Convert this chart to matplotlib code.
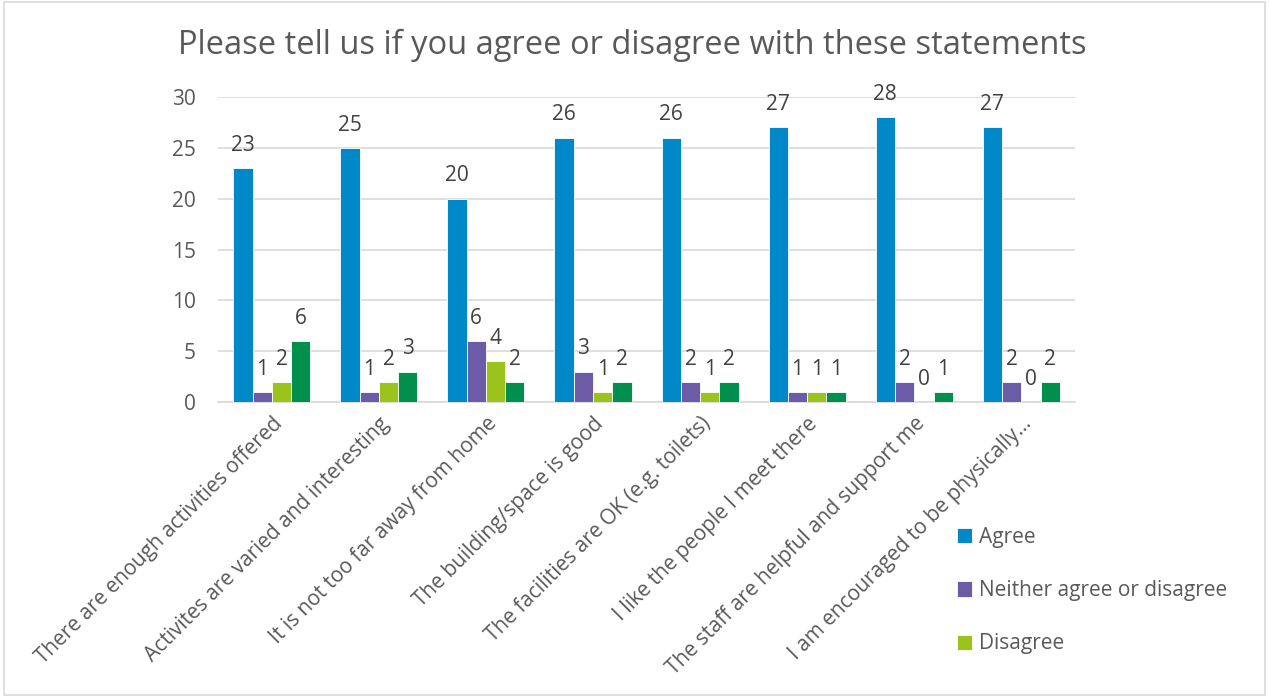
import matplotlib.pyplot as plt
from matplotlib.patches import Rectangle
import numpy as np

plt.rcParams['font.family'] = ['Open Sans', 'DejaVu Sans']

statements = [
    "There are enough activities offered",
    "Activites are varied and interesting",
    "It is not too far away from home",
    "The building/space is good",
    "The facilities are OK (e.g. toilets)",
    "I like the people I meet there",
    "The staff are helpful and support me",
    "I am encouraged to be physically…",
]
agree = [23, 25, 20, 26, 26, 27, 28, 27]
neither = [1, 1, 6, 3, 2, 1, 2, 2]
disagree = [2, 2, 4, 1, 1, 1, 0, 0]
fourth = [6, 3, 2, 2, 2, 1, 1, 2]

series = [
    (agree, "Agree", "#0088c9"),
    (neither, "Neither agree or disagree", "#6c5ba6"),
    (disagree, "Disagree", "#9bc31c"),
    (fourth, None, "#008f4c"),
]

text_col = "#595959"
grid_col = "#d9d9d9"

fig = plt.figure(figsize=(12.69, 6.97), dpi=100)
ax = fig.add_axes([0.172, 0.423, 0.675, 0.438])

x = np.arange(len(statements))
w = 0.18
for i, (vals, name, col) in enumerate(series):
    pos = x + (i - 1.5) * w
    bars = ax.bar(pos, vals, w, color=col, label=name, zorder=3,
                  edgecolor="white", linewidth=0.6)
    for b, v in zip(bars, vals):
        ax.text(b.get_x() + b.get_width() / 2, v + 1.2, str(v),
                ha="center", va="bottom", fontsize=15, color="#404040")

ax.set_xlim(-0.5, len(statements) - 0.5)
ax.set_ylim(0, 30)
ax.set_yticks(range(0, 31, 5))
ax.yaxis.grid(True, color=grid_col, linewidth=1.2, zorder=0)
ax.set_axisbelow(True)
for s in ["top", "right", "left"]:
    ax.spines[s].set_visible(False)
ax.spines["bottom"].set_color(grid_col)
ax.spines["bottom"].set_linewidth(1.2)
ax.tick_params(axis="y", length=0, labelsize=15, colors=text_col, pad=16)
ax.tick_params(axis="x", length=0, labelsize=15, colors=text_col, pad=8)

ax.set_xticks(x)
ax.set_xticklabels(statements, rotation=45, ha="right", rotation_mode="anchor",
                   fontsize=15, color=text_col)

fig.text(0.498, 0.935, "Please tell us if you agree or disagree with these statements",
         ha="center", va="center", fontsize=23.5, color=text_col)

handles, labels = ax.get_legend_handles_labels()
fig.legend(handles[:3], labels[:3], loc="upper left",
           bbox_to_anchor=(0.739, 0.271), frameon=False, fontsize=15,
           labelcolor=text_col, handlelength=0.75, handleheight=0.75,
           handletextpad=0.35, labelspacing=1.55)

# outer chart border
fig.patches.append(Rectangle((0.003, 0.003), 0.994, 0.994, transform=fig.transFigure,
                             fill=False, edgecolor=grid_col, linewidth=1.2))

fig.savefig("out.png", dpi=100)
